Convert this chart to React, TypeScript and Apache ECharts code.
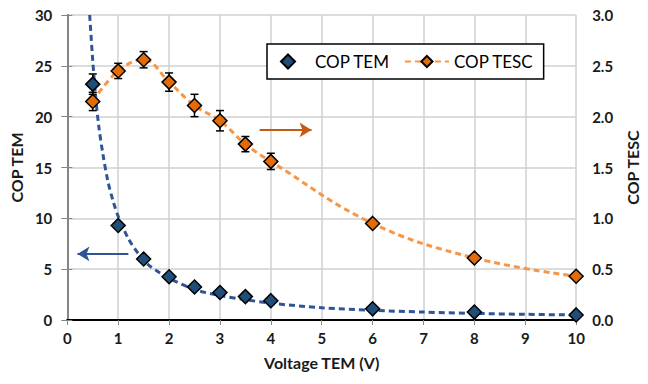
import React, { useEffect, useRef } from "react";
import * as echarts from "echarts";

const voltage = [0.5, 1, 1.5, 2, 2.5, 3, 3.5, 4, 6, 8, 10];
const copTem = [23.2, 9.3, 6.0, 4.25, 3.25, 2.7, 2.3, 1.9, 1.1, 0.78, 0.5];
const copTemErr = [1.0, 0.3, 0.2, 0.15, 0.1, 0.1, 0.1, 0.1, 0, 0, 0];
const copTesc = [2.15, 2.45, 2.56, 2.34, 2.11, 1.96, 1.73, 1.56, 0.95, 0.61, 0.43];
const copTescErr = [0.09, 0.075, 0.08, 0.09, 0.11, 0.1, 0.075, 0.08, 0, 0, 0];

const trendX = [0.44, 0.5, 0.56, 0.62, 0.7, 0.8, 0.9, 1, 1.2, 1.4, 1.6, 1.8, 2, 2.5, 3, 3.5, 4, 5, 6, 7, 8, 9, 10];
const trendY = [30, 25.5, 21.8, 19, 16.3, 13.6, 11.7, 10.2, 8, 6.5, 5.4, 4.7, 4.1, 3.0, 2.4, 2.0, 1.65, 1.2, 0.95, 0.78, 0.65, 0.56, 0.49];

const FONT = "Lato";

function errRender(params: any, api: any) {
  const x = api.value(0);
  const y = api.value(1);
  const e = api.value(2);
  if (!e) return null;
  const top = api.coord([x, y + e]);
  const bot = api.coord([x, y - e]);
  const w = 4;
  const style = { stroke: "#000", lineWidth: 1.5 };
  return {
    type: "group",
    children: [
      { type: "line", shape: { x1: top[0], y1: top[1], x2: bot[0], y2: bot[1] }, style },
      { type: "line", shape: { x1: top[0] - w, y1: top[1], x2: top[0] + w, y2: top[1] }, style },
      { type: "line", shape: { x1: bot[0] - w, y1: bot[1], x2: bot[0] + w, y2: bot[1] }, style },
    ],
  };
}

export default function App() {
  const ref = useRef<HTMLDivElement>(null);
  useEffect(() => {
    if (!ref.current) return;
    const chart = echarts.init(ref.current, undefined, { renderer: "svg" });
    const labelStyle = { fontFamily: FONT, fontWeight: "bold" as const, fontSize: 15, color: "#1a1a1a" };
    const nameStyle = { fontFamily: FONT, fontWeight: "bold" as const, fontSize: 16, color: "#1a1a1a" };
    chart.setOption({
      animation: false,
      backgroundColor: "#fff",
      grid: { left: 66, right: 63, top: 15, bottom: 64 },
      legend: {
        left: 267,
        top: 44,
        data: [
          { name: "COP TEM", icon: "path://M0,-7L7,0L0,7L-7,0Z" },
          { name: "COP TESC" },
        ],
        symbolKeepAspect: true,
        itemWidth: 44,
        itemHeight: 14,
        itemGap: 14,
        padding: [9, 10, 9, 13],
        borderColor: "#000",
        borderWidth: 1.5,
        backgroundColor: "#fff",
        textStyle: { fontFamily: FONT, fontSize: 17, color: "#000" },
      },
      xAxis: [
        {
          type: "value",
          min: 0,
          max: 10,
          interval: 1,
          name: "Voltage TEM (V)",
          nameLocation: "middle",
          nameGap: 34,
          nameTextStyle: nameStyle,
          axisLine: { show: true, lineStyle: { color: "#868686", width: 2 } },
          axisTick: { show: true, length: 5, lineStyle: { color: "#868686" } },
          axisLabel: { ...labelStyle, margin: 10 },
          splitLine: { show: true, lineStyle: { color: "#d0d0d0", width: 1.5 } },
        },
        {
          type: "value",
          position: "top",
          min: 0,
          max: 10,
          interval: 1,
          axisLine: { show: true, lineStyle: { color: "#000", width: 2 } },
          axisTick: { show: false },
          axisLabel: { show: false },
          splitLine: { show: false },
        },
      ],
      yAxis: [
        {
          type: "value",
          min: 0,
          max: 30,
          interval: 5,
          name: "COP TEM",
          nameLocation: "middle",
          nameGap: 41,
          nameTextStyle: nameStyle,
          axisLine: { show: true, lineStyle: { color: "#868686", width: 2 } },
          axisTick: { show: true, length: 6, lineStyle: { color: "#868686" } },
          axisLabel: { ...labelStyle, margin: 15 },
          splitLine: { show: true, lineStyle: { color: "#d0d0d0", width: 1.5 } },
        },
        {
          type: "value",
          min: 0,
          max: 3,
          interval: 0.5,
          position: "right",
          name: "COP TESC",
          nameLocation: "middle",
          nameGap: 47,
          nameTextStyle: nameStyle,
          axisLine: { show: true, lineStyle: { color: "#868686", width: 2 } },
          axisTick: { show: true, length: 5, lineStyle: { color: "#868686" } },
          axisLabel: { ...labelStyle, margin: 16, formatter: (v: number) => v.toFixed(1) },
          splitLine: { show: false },
        },
      ],
      series: [
        {
          name: "trend",
          type: "line",
          xAxisIndex: 0,
          yAxisIndex: 0,
          data: trendX.map((x, i) => [x, trendY[i]]),
          smooth: 0.3,
          showSymbol: false,
          symbol: "none",
          lineStyle: { color: "#2F5597", width: 3, type: [6, 4] },
          z: 2,
          silent: true,
          markLine: {
            silent: true,
            symbol: ["none", "arrow"],
            symbolSize: [11, 12],
            label: { show: false },
            lineStyle: { color: "#2F5597", width: 2, type: "solid" },
            data: [[{ coord: [1.2, 6.5] }, { coord: [0.2, 6.5] }]],
          },
        },
        {
          name: "COP TESC",
          type: "line",
          xAxisIndex: 0,
          yAxisIndex: 1,
          data: voltage.map((x, i) => [x, copTesc[i]]),
          smooth: 0.4,
          symbol: "diamond",
          symbolSize: 14,
          itemStyle: { color: "#E36C0A", borderColor: "#000", borderWidth: 1.5 },
          lineStyle: { color: "#F79646", width: 3, type: [6, 4] },
          z: 5,
          markLine: {
            silent: true,
            symbol: ["none", "arrow"],
            symbolSize: [11, 12],
            label: { show: false },
            lineStyle: { color: "#C55A11", width: 2, type: "solid" },
            data: [[{ coord: [3.78, 1.87] }, { coord: [4.8, 1.87] }]],
          },
        },
        {
          name: "errTem",
          type: "custom",
          xAxisIndex: 0,
          yAxisIndex: 0,
          renderItem: errRender,
          data: voltage.map((x, i) => [x, copTem[i], copTemErr[i]]),
          z: 3,
          silent: true,
        },
        {
          name: "errTesc",
          type: "custom",
          xAxisIndex: 0,
          yAxisIndex: 1,
          renderItem: errRender,
          data: voltage.map((x, i) => [x, copTesc[i], copTescErr[i]]),
          z: 3,
          silent: true,
        },
        {
          name: "COP TEM",
          type: "scatter",
          xAxisIndex: 0,
          yAxisIndex: 0,
          data: voltage.map((x, i) => [x, copTem[i]]),
          symbol: "diamond",
          symbolSize: 14,
          itemStyle: { color: "#1F4E79", borderColor: "#000", borderWidth: 1.5, opacity: 1 },
          z: 4,
        },
      ],
    });
    return () => chart.dispose();
  }, []);
  return <div ref={ref} style={{ width: 648, height: 384, margin: -8 }} />;
}
